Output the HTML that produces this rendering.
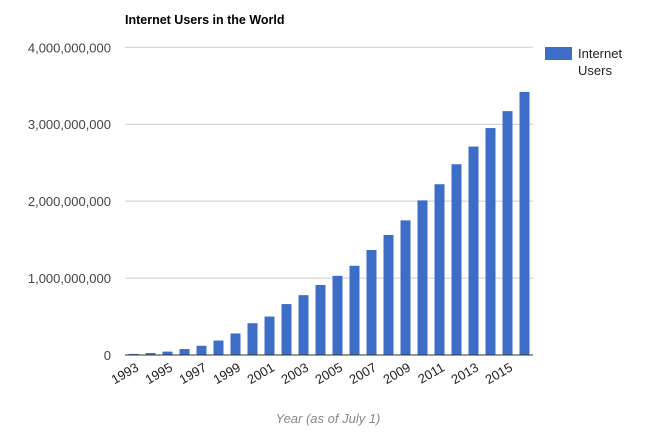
<!DOCTYPE html>
<html><head><meta charset="utf-8"><style>
body{margin:0;background:#fff}
svg{display:block;font-family:"Liberation Sans",Arial,sans-serif}
</style></head><body>
<svg id="chart" width="652" height="436">
<text x="125" y="24" font-size="12.5" font-weight="bold" fill="#000">Internet Users in the World</text>
<g id="grid"></g><g id="bars"></g><g id="xlabels"></g>
<text x="328" y="423" font-size="13" font-style="italic" fill="#888" text-anchor="middle">Year (as of July 1)</text>
<rect x="545" y="47" width="27" height="13" fill="#3d6ec7"/>
<text x="578" y="58" font-size="13" fill="#222"><tspan x="578">Internet</tspan><tspan x="578" dy="17">Users</tspan></text>
</svg>
<script>
const years=[1993,1994,1995,1996,1997,1998,1999,2000,2001,2002,2003,2004,2005,2006,2007,2008,2009,2010,2011,2012,2013,2014,2015,2016];
const users=[14e6,25e6,44e6,77e6,120e6,188e6,280e6,413e6,500e6,662e6,778e6,910e6,1029e6,1160e6,1365e6,1560e6,1750e6,2010e6,2220e6,2480e6,2710e6,2950e6,3170e6,3420e6];
const yTicks=[0,1e9,2e9,3e9,4e9];
const ns="http://www.w3.org/2000/svg";
const L=125,R=533,B=355,T=47.3,MAX=4e9;
const y=v=>B-(v/MAX)*(B-T);
const step=(R-L)/years.length;
const x=i=>L+step*i+step/2;
const g=document.getElementById('grid'),bg=document.getElementById('bars'),xg=document.getElementById('xlabels');
yTicks.forEach(t=>{
 if(t>0){const l=document.createElementNS(ns,'line');
 l.setAttribute('x1',L);l.setAttribute('x2',R);l.setAttribute('y1',y(t));l.setAttribute('y2',y(t));l.setAttribute('stroke','#ccc');
 
 
 g.appendChild(l);}
 const tx=document.createElementNS(ns,'text');
 tx.setAttribute('x',111);tx.setAttribute('y',y(t)+5);tx.setAttribute('text-anchor','end');tx.setAttribute('font-size','13');tx.setAttribute('fill','#444');
 tx.textContent=t.toLocaleString('en-US');
 
 
 g.appendChild(tx);
});
users.forEach((v,i)=>{
 const r=document.createElementNS(ns,'rect');
 r.setAttribute('x',x(i)-5);r.setAttribute('width',10);r.setAttribute('y',y(v));r.setAttribute('height',B-y(v));r.setAttribute('fill','#3d6ec7');
 
 
 bg.appendChild(r);
 if(i%2===0){
  const tx=document.createElementNS(ns,'text');
  tx.setAttribute('transform','translate('+(x(i)+6)+',370) rotate(-30)');
  tx.setAttribute('text-anchor','end');tx.setAttribute('font-size','13');tx.setAttribute('fill','#222');
  tx.textContent=years[i];
  
  
  xg.appendChild(tx);
 }
});
const base=document.createElementNS(ns,'line');
base.setAttribute('x1',L);base.setAttribute('x2',R);base.setAttribute('y1',B);base.setAttribute('y2',B);base.setAttribute('stroke','#333');


bg.appendChild(base);
</script>
</body></html>
